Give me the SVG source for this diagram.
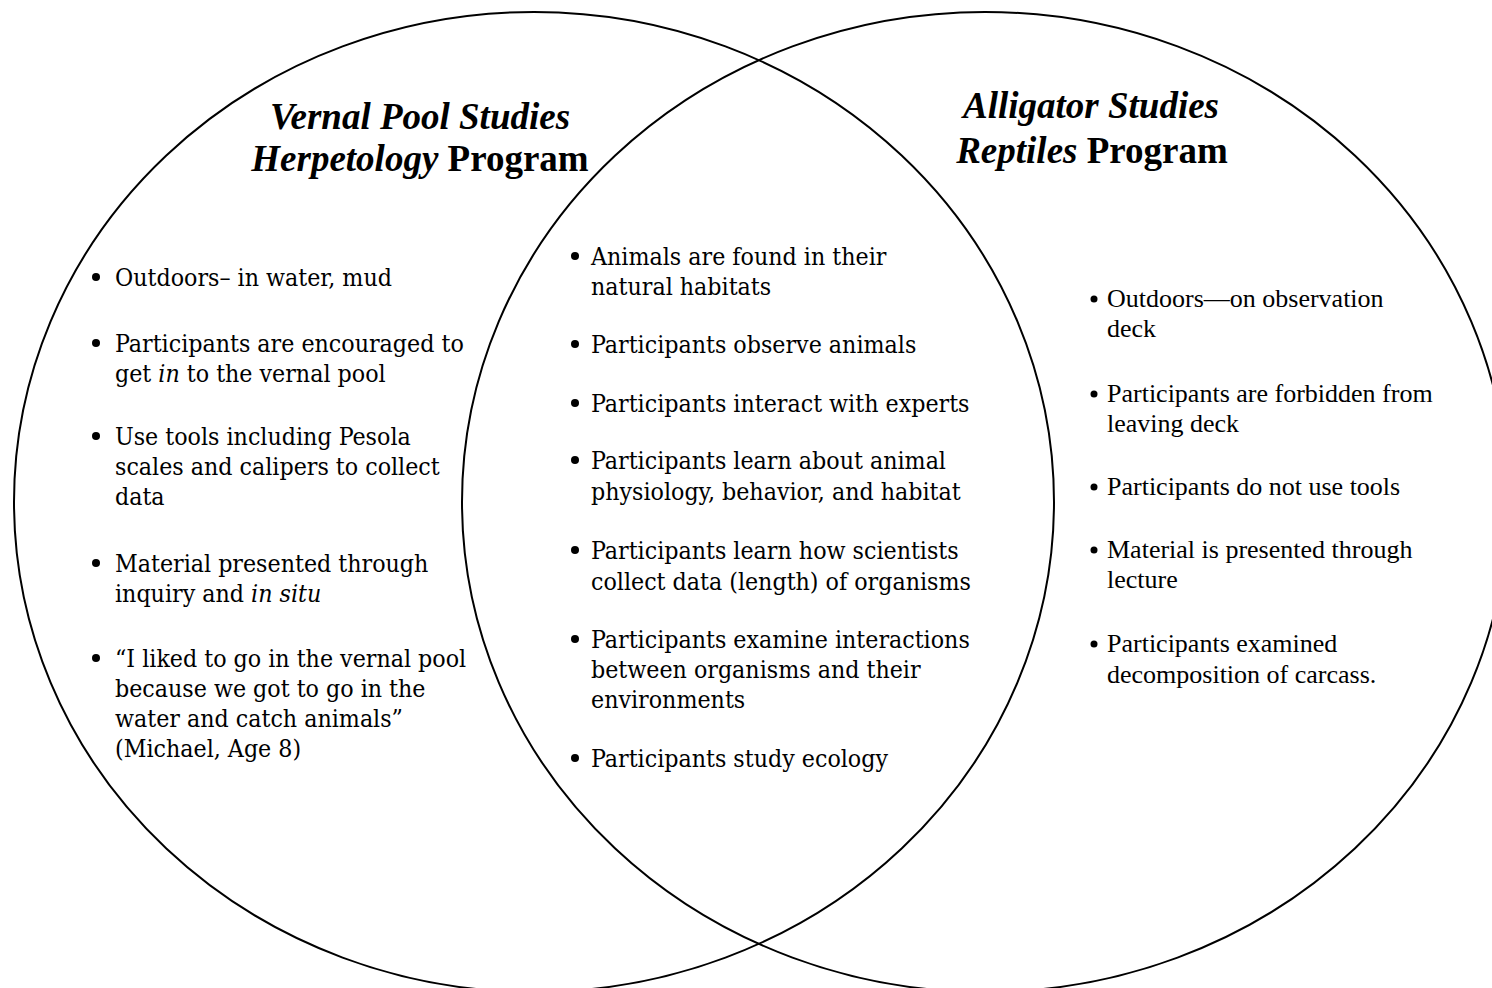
<svg xmlns="http://www.w3.org/2000/svg" width="1492" height="988" viewBox="0 0 1492 988">
  <style>
    .ring { fill: none; stroke: #000; stroke-width: 2; }
    .title { font-family: "Liberation Serif", "Times New Roman", serif; font-size: 37px; font-weight: bold; fill: #000; }
    .it { font-style: italic; }
    .body { font-family: "DejaVu Serif Condensed", "DejaVu Serif", serif; font-stretch: semi-condensed; font-size: 24.7px; fill: #000; }
    .tnr { font-family: "Liberation Serif", "Times New Roman", serif; font-size: 26px; fill: #000; }
    .dot { fill: #000; }
  </style>

  <!-- the two overlapping sets -->
  <g id="rings">
    <ellipse class="ring" cx="534" cy="502" rx="520" ry="490"/>
    <ellipse class="ring" cx="985" cy="502" rx="523" ry="490"/>
  </g>

  <!-- left set: Vernal Pool Studies -->
  <g id="vernal-pool">
    <text class="title" text-anchor="middle" x="420" y="129"><tspan class="it">Vernal Pool Studies</tspan></text>
    <text class="title" text-anchor="middle" x="420" y="171"><tspan class="it">Herpetology</tspan> Program</text>
    <g class="body">
      <circle class="dot" cx="96" cy="277" r="4"/>
      <text x="115" y="286">Outdoors– in water, mud</text>
      <circle class="dot" cx="96" cy="343" r="4"/>
      <text x="115" y="352">Participants are encouraged to</text>
      <text x="115" y="382">get <tspan class="it">in</tspan> to the vernal pool</text>
      <circle class="dot" cx="96" cy="436" r="4"/>
      <text x="115" y="445">Use tools including Pesola</text>
      <text x="115" y="475">scales and calipers to collect</text>
      <text x="115" y="505">data</text>
      <circle class="dot" cx="96" cy="563" r="4"/>
      <text x="115" y="572">Material presented through</text>
      <text x="115" y="602">inquiry and <tspan class="it">in situ</tspan></text>
      <circle class="dot" cx="96" cy="658" r="4"/>
      <text x="115" y="667">“I liked to go in the vernal pool</text>
      <text x="115" y="697">because we got to go in the</text>
      <text x="115" y="727">water and catch animals”</text>
      <text x="115" y="757">(Michael, Age 8)</text>
    </g>
  </g>

  <!-- overlap: shared features -->
  <g id="shared">
    <g class="body">
      <circle class="dot" cx="575" cy="256" r="4"/>
      <text x="591" y="265">Animals are found in their</text>
      <text x="591" y="295">natural habitats</text>
      <circle class="dot" cx="575" cy="344" r="4"/>
      <text x="591" y="353">Participants observe animals</text>
      <circle class="dot" cx="575" cy="403" r="4"/>
      <text x="591" y="412">Participants interact with experts</text>
      <circle class="dot" cx="575" cy="460" r="4"/>
      <text x="591" y="469">Participants learn about animal</text>
      <text x="591" y="500">physiology, behavior, and habitat</text>
      <circle class="dot" cx="575" cy="550" r="4"/>
      <text x="591" y="559">Participants learn how scientists</text>
      <text x="591" y="590">collect data (length) of organisms</text>
      <circle class="dot" cx="575" cy="639" r="4"/>
      <text x="591" y="648">Participants examine interactions</text>
      <text x="591" y="678">between organisms and their</text>
      <text x="591" y="708">environments</text>
      <circle class="dot" cx="575" cy="758" r="4"/>
      <text x="591" y="767">Participants study ecology</text>
    </g>
  </g>

  <!-- right set: Alligator Studies -->
  <g id="alligator">
    <text class="title" text-anchor="middle" x="1091" y="118"><tspan class="it">Alligator Studies</tspan></text>
    <text class="title" text-anchor="middle" x="1092" y="163"><tspan class="it">Reptiles</tspan> Program</text>
    <g class="tnr">
      <circle class="dot" cx="1094" cy="299" r="3.5"/>
      <text x="1107" y="307">Outdoors—on observation</text>
      <text x="1107" y="337">deck</text>
      <circle class="dot" cx="1094" cy="394" r="3.5"/>
      <text x="1107" y="402">Participants are forbidden from</text>
      <text x="1107" y="432">leaving deck</text>
      <circle class="dot" cx="1094" cy="487" r="3.5"/>
      <text x="1107" y="495">Participants do not use tools</text>
      <circle class="dot" cx="1094" cy="550" r="3.5"/>
      <text x="1107" y="558">Material is presented through</text>
      <text x="1107" y="588">lecture</text>
      <circle class="dot" cx="1094" cy="644" r="3.5"/>
      <text x="1107" y="652">Participants examined</text>
      <text x="1107" y="683">decomposition of carcass.</text>
    </g>
  </g>
</svg>
